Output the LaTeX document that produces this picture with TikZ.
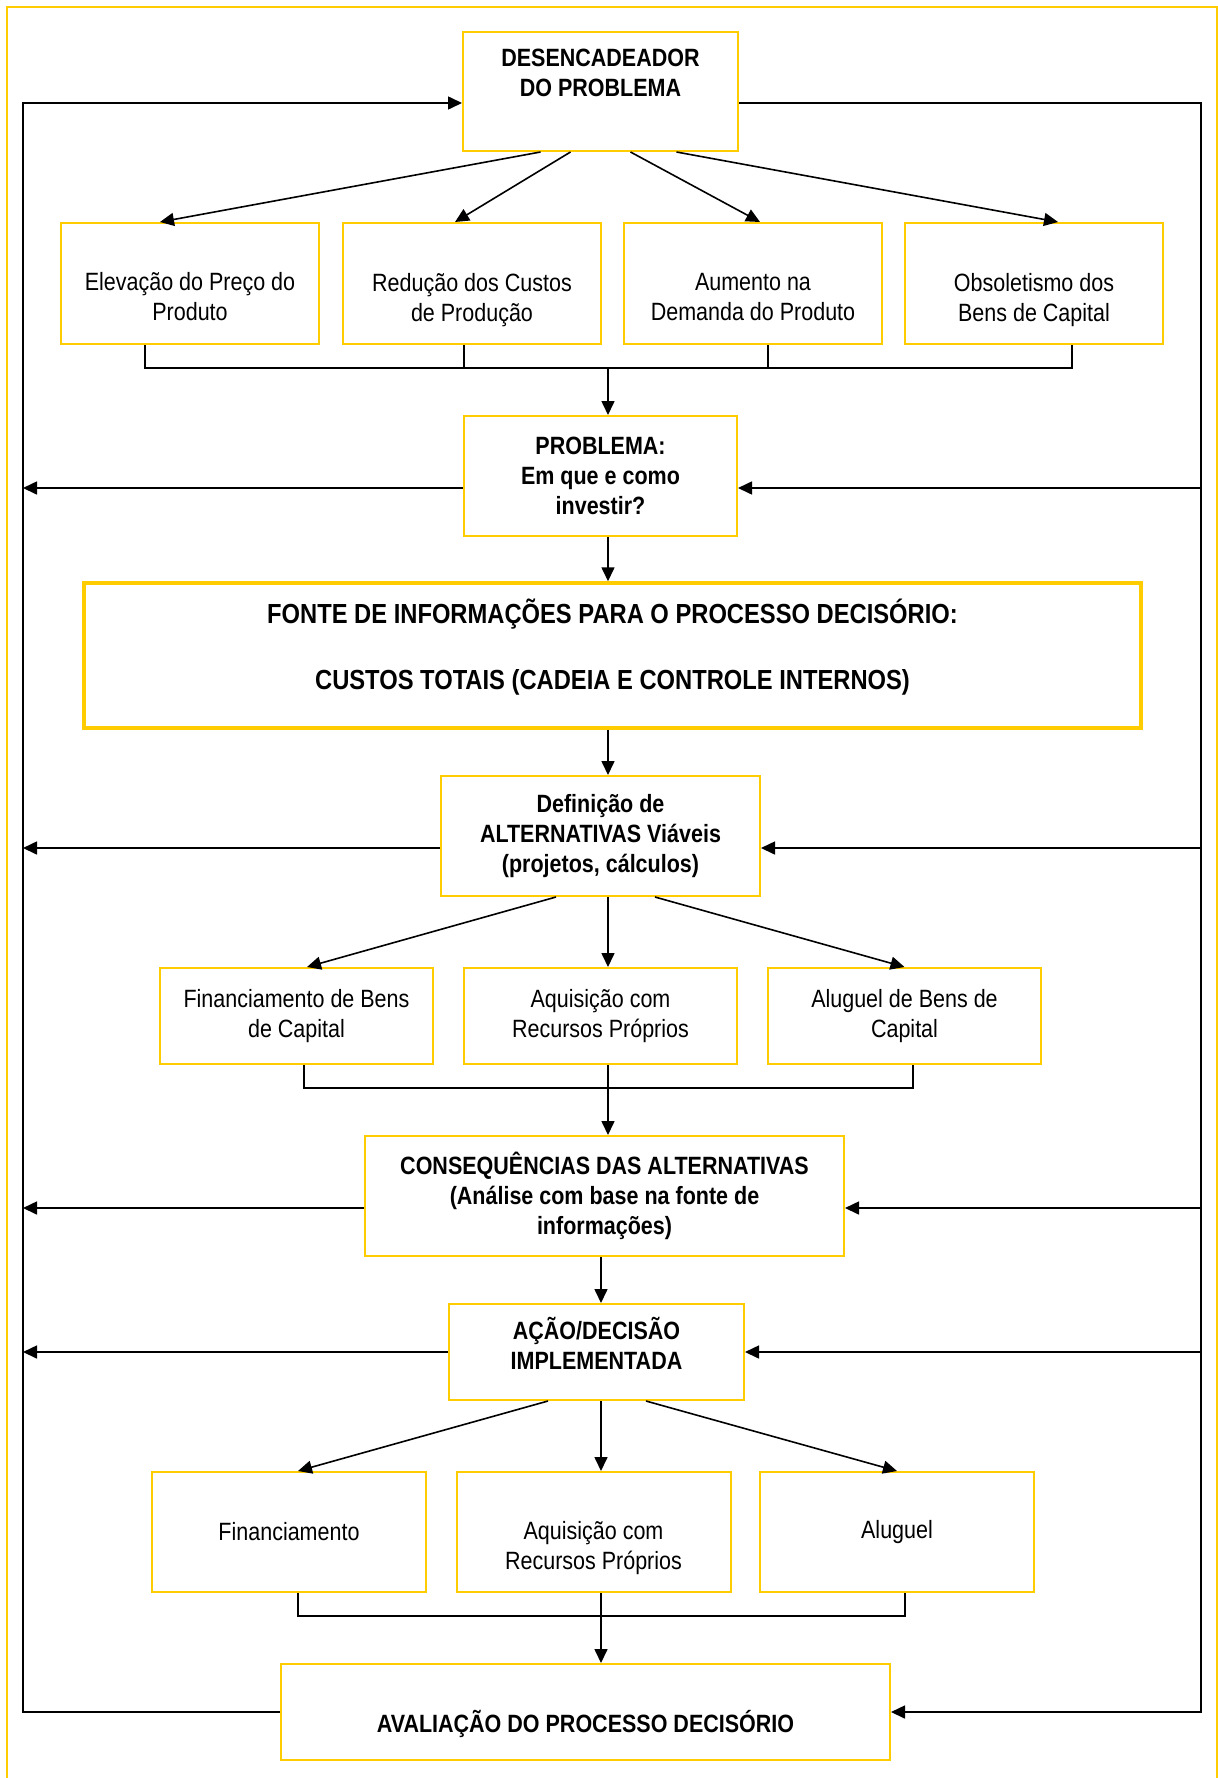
\documentclass[tikz,border=0pt]{standalone}
\usepackage{fontspec}
\setmainfont{Liberation Sans}[FakeStretch=0.86]
\usetikzlibrary{arrows.meta}
\definecolor{gold}{RGB}{255,204,0}

\begin{document}
\begin{tikzpicture}[
        x=0.5pt, y=-0.5pt,
        every node/.style={font=\fontsize{12.5}{15}\selectfont},
        box/.style={rectangle, draw=gold, line width=1pt, align=center, inner sep=2pt},
        title/.style={box, font=\fontsize{12.5}{15}\selectfont\bfseries},
        arrow/.style={-{Triangle[length=7pt,width=6.5pt]}, line width=0.8pt},
        link/.style={line width=0.8pt}
    ]
        \useasboundingbox (0,0) rectangle (1218,1778);
        \draw[gold, line width=1pt] (7,1778) |- (1217,7) -- (1217,1778);

        % Trigger and its causes
        \node[title, minimum width=137.5pt, minimum height=59.5pt] (des) at (600.5,91.5) {DESENCADEADOR\\DO PROBLEMA\\[3.5pt]~};
        \node[box, minimum width=129pt, minimum height=60.5pt] (elev) at (190,283.5) {\strut\\[-3.5pt]Elevação do Preço do\\Produto};
        \node[box, minimum width=129pt, minimum height=60.5pt] (redu) at (472,283.5) {\strut\\Redução dos Custos\\de Produção};
        \node[box, minimum width=129pt, minimum height=60.5pt] (aume) at (753,283.5) {\strut\\[-3.5pt]Aumento na\\Demanda do Produto};
        \node[box, minimum width=129pt, minimum height=60.5pt] (obso) at (1034,283.5) {\strut\\Obsoletismo dos\\Bens de Capital};

        % Problem and information source
        \node[title, minimum width=136.5pt, minimum height=60pt] (prob) at (600.5,476) {PROBLEMA:\\Em que e como\\investir?};
        \node[box, line width=1.75pt, minimum width=528.5pt, minimum height=72.5pt,
              font=\fontsize{13.8}{16.5}\selectfont\bfseries] (fonte) at (612.5,655.5)
              {FONTE DE INFORMAÇÕES PARA O PROCESSO DECISÓRIO:\\[16.5pt]CUSTOS TOTAIS (CADEIA E CONTROLE INTERNOS)\\[-10.5pt]\strut};

        % Alternatives
        \node[title, minimum width=159.5pt, minimum height=60pt] (def) at (600.5,836) {Definição de\\ALTERNATIVAS Viáveis\\(projetos, cálculos)};
        \node[box, minimum width=136.5pt, minimum height=48pt] (fina) at (296.5,1016) {Financiamento de Bens\\de Capital};
        \node[box, minimum width=136.5pt, minimum height=48pt] (aqui) at (600.5,1016) {Aquisição com\\Recursos Próprios};
        \node[box, minimum width=136.5pt, minimum height=48pt] (alug) at (904.5,1016) {Aluguel de Bens de\\Capital};
        \node[title, minimum width=239.5pt, minimum height=60pt] (cons) at (604.5,1196) {CONSEQUÊNCIAS DAS ALTERNATIVAS\\(Análise com base na fonte de\\informações)};

        % Decision and evaluation
        \node[title, minimum width=147.5pt, minimum height=48pt] (acao) at (596.5,1352) {AÇÃO/DECISÃO\\IMPLEMENTADA\\[-10.5pt]\strut};
        \node[box, minimum width=137pt, minimum height=60pt] (finb) at (289,1532) {Financiamento};
        \node[box, minimum width=137pt, minimum height=60pt] (aqub) at (593.5,1532) {\strut\\Aquisição com\\Recursos Próprios};
        \node[box, minimum width=137pt, minimum height=60pt] (alub) at (897,1532) {Aluguel};
        \node[title, minimum width=304.5pt, minimum height=48pt] (aval) at (585.5,1712) {\strut\\[-4pt]AVALIAÇÃO DO PROCESSO DECISÓRIO};

        \coordinate (axis) at (608,0);
        \coordinate (axisb) at (601,0);
        \coordinate (bus1) at (608,368);
        \coordinate (bus2) at (608,1088);
        \coordinate (bus3) at (601,1616);
        \coordinate (fbl) at (23,103);
        \coordinate (fbr) at (1201,103);

        % Trigger to causes
        \draw[arrow] ([xshift=-30pt]des.south) -- ([xshift=-15pt]elev.north);
        \draw[arrow] ([xshift=-15pt]des.south) -- ([xshift=-8.5pt]redu.north);
        \draw[arrow] ([xshift=15pt]des.south) -- ([xshift=3.5pt]aume.north);
        \draw[arrow] ([xshift=38pt]des.south) -- ([xshift=12pt]obso.north);

        % Causes to problem
        \draw[link] ([xshift=-22.5pt]elev.south) |- (bus1) -| ([xshift=19pt]obso.south);
        \draw[link] ([xshift=-4pt]redu.south) -- ([xshift=-4pt]redu.south |- bus1);
        \draw[link] ([xshift=7.5pt]aume.south) -- ([xshift=7.5pt]aume.south |- bus1);
        \draw[arrow] (bus1) -- (bus1 |- prob.north);
        \draw[arrow] (prob.south -| axis) -- (axis |- fonte.north);
        \draw[arrow] (fonte.south -| axis) -- (axis |- def.north);

        % Alternatives
        \draw[arrow] ([xshift=-22.25pt]def.south) -- ([xshift=5.25pt]fina.north);
        \draw[arrow] (def.south -| axis) -- (axis |- aqui.north);
        \draw[arrow] ([xshift=27.25pt]def.south) -- (alug.north);
        \draw[link] ([xshift=3.75pt]fina.south) |- (bus2) -| ([xshift=4.25pt]alug.south);
        \draw[arrow] (aqui.south -| axis) -- (axis |- cons.north);
        \draw[arrow] (cons.south -| axisb) -- (axisb |- acao.north);

        % Decision
        \draw[arrow] ([xshift=-24.25pt]acao.south) -- ([xshift=4.5pt]finb.north);
        \draw[arrow] (acao.south -| axisb) -- (axisb |- aqub.north);
        \draw[arrow] ([xshift=24.75pt]acao.south) -- (alub.north);
        \draw[link] ([xshift=4.5pt]finb.south) |- (bus3) -| ([xshift=4pt]alub.south);
        \draw[arrow] (aqub.south -| axisb) -- (axisb |- aval.north);

        % Feedback loop
        \draw[arrow] (aval.west) -| (fbl) -- (fbl -| des.west);
        \draw[arrow] (fbl -| des.east) -- (fbr) |- (aval.east);
        \draw[arrow] ([yshift=-6pt]prob.west) -- ([yshift=-6pt]prob.west -| fbl);
        \draw[arrow] ([yshift=-6pt]prob.east -| fbr) -- ([yshift=-6pt]prob.east);
        \draw[arrow] ([yshift=-6pt]def.west) -- ([yshift=-6pt]def.west -| fbl);
        \draw[arrow] ([yshift=-6pt]def.east -| fbr) -- ([yshift=-6pt]def.east);
        \draw[arrow] ([yshift=-6pt]cons.west) -- ([yshift=-6pt]cons.west -| fbl);
        \draw[arrow] ([yshift=-6pt]cons.east -| fbr) -- ([yshift=-6pt]cons.east);
        \draw[arrow] (acao.west) -- (acao.west -| fbl);
        \draw[arrow] (acao.east -| fbr) -- (acao.east);
    \end{tikzpicture}
\end{document}
